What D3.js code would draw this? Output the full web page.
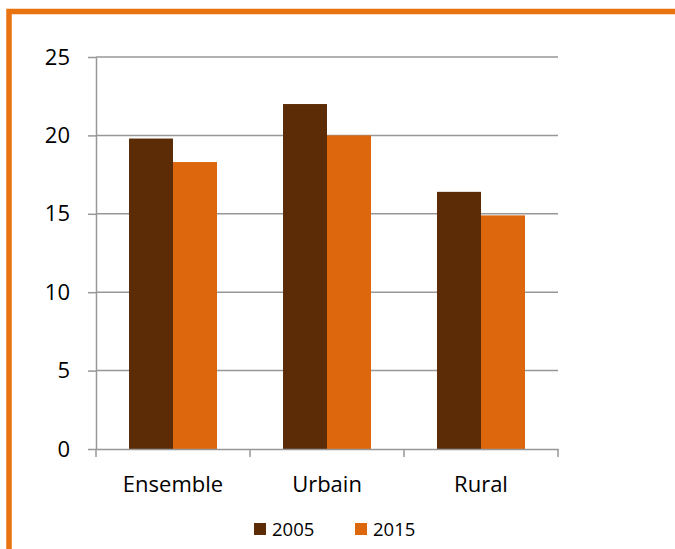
<!DOCTYPE html>
<html>
<head>
<meta charset="utf-8">
<script src="https://cdn.jsdelivr.net/npm/d3@7"></script>
<style>
  body { margin: 0; background: #fff; }
  svg { display: block; font-family: 'Open Sans', 'Liberation Sans', sans-serif; }
</style>
</head>
<body>
<svg id="chart" width="675" height="549"></svg>
<script>
const categories = ['Ensemble', 'Urbain', 'Rural'];
const seriesNames = ['2005', '2015'];
const values2005 = [19.8, 22.0, 16.4];
const values2015 = [18.3, 20.0, 14.9];
const yTicks = [0, 5, 10, 15, 20, 25];

const colors = { '2005': '#5b2c06', '2015': '#dc670d' };
const frameColor = '#e8730f';
const gridColor = '#979797';

const rows = categories.map((c, i) => ({
  category: c,
  values: [
    { key: '2005', value: values2005[i] },
    { key: '2015', value: values2015[i] },
  ],
}));

const svg = d3.select('#chart');

// orange frame (top + left visible)
svg.append('rect')
  .attr('x', 9).attr('y', 11.5)
  .attr('width', 700).attr('height', 600)
  .attr('fill', 'none')
  .attr('stroke', frameColor)
  .attr('stroke-width', 5.5);

const plot = { left: 96, right: 558, top: 57, bottom: 449 };

const x = d3.scaleBand().domain(categories).range([plot.left, plot.right]);
const xInner = d3.scaleBand().domain(seriesNames)
  .range([0, x.bandwidth()]).paddingOuter(0.75).paddingInner(0);
const y = d3.scaleLinear().domain([0, 25]).range([plot.bottom, plot.top]);

// gridlines
svg.append('g')
  .selectAll('line')
  .data(yTicks.filter(t => t > 0))
  .join('line')
  .attr('x1', plot.left).attr('x2', plot.right)
  .attr('y1', d => y(d)).attr('y2', d => y(d))
  .attr('stroke', gridColor)
  .attr('stroke-width', 1.5);

// bars
const groups = svg.append('g')
  .selectAll('g')
  .data(rows)
  .join('g')
  .attr('transform', d => `translate(${x(d.category)},0)`);

groups.selectAll('rect')
  .data(d => d.values)
  .join('rect')
  .attr('x', d => xInner(d.key))
  .attr('y', d => y(d.value))
  .attr('width', xInner.bandwidth())
  .attr('height', d => y(0) - y(d.value))
  .attr('fill', d => colors[d.key]);

// y axis
const yAxis = svg.append('g')
  .attr('transform', `translate(${plot.left},0)`)
  .call(d3.axisLeft(y).tickValues(yTicks).tickSize(8).tickSizeOuter(0).tickPadding(18));
yAxis.select('.domain').attr('stroke', gridColor).attr('stroke-width', 1.5);
yAxis.selectAll('.tick line').attr('stroke', gridColor).attr('stroke-width', 1.5);
yAxis.selectAll('.tick text')
  .attr('font-size', 22).attr('fill', '#000')
  .attr('font-family', "'Open Sans', sans-serif");

// x axis
const xAxis = svg.append('g')
  .attr('transform', `translate(0,${plot.bottom})`)
  .call(d3.axisBottom(x).tickSize(0).tickPadding(27));
xAxis.select('.domain').attr('stroke', gridColor).attr('stroke-width', 1.5);
xAxis.selectAll('.tick text')
  .attr('font-size', 22).attr('fill', '#000')
  .attr('font-family', "'Open Sans', sans-serif");

// x axis tick marks at band boundaries
svg.append('g')
  .selectAll('line')
  .data(categories.map(c => x(c)).concat([plot.right]))
  .join('line')
  .attr('x1', d => d).attr('x2', d => d)
  .attr('y1', plot.bottom).attr('y2', plot.bottom + 8)
  .attr('stroke', gridColor)
  .attr('stroke-width', 1.5);

// legend
const legend = svg.append('g');
const legendX = [254, 355];
seriesNames.forEach((name, i) => {
  legend.append('rect')
    .attr('x', legendX[i]).attr('y', 523)
    .attr('width', 12).attr('height', 12)
    .attr('fill', colors[name]);
  legend.append('text')
    .attr('x', legendX[i] + 18).attr('y', 536)
    .attr('font-size', 18.5)
    .attr('fill', '#000')
    .text(name);
});
</script>
</body>
</html>
